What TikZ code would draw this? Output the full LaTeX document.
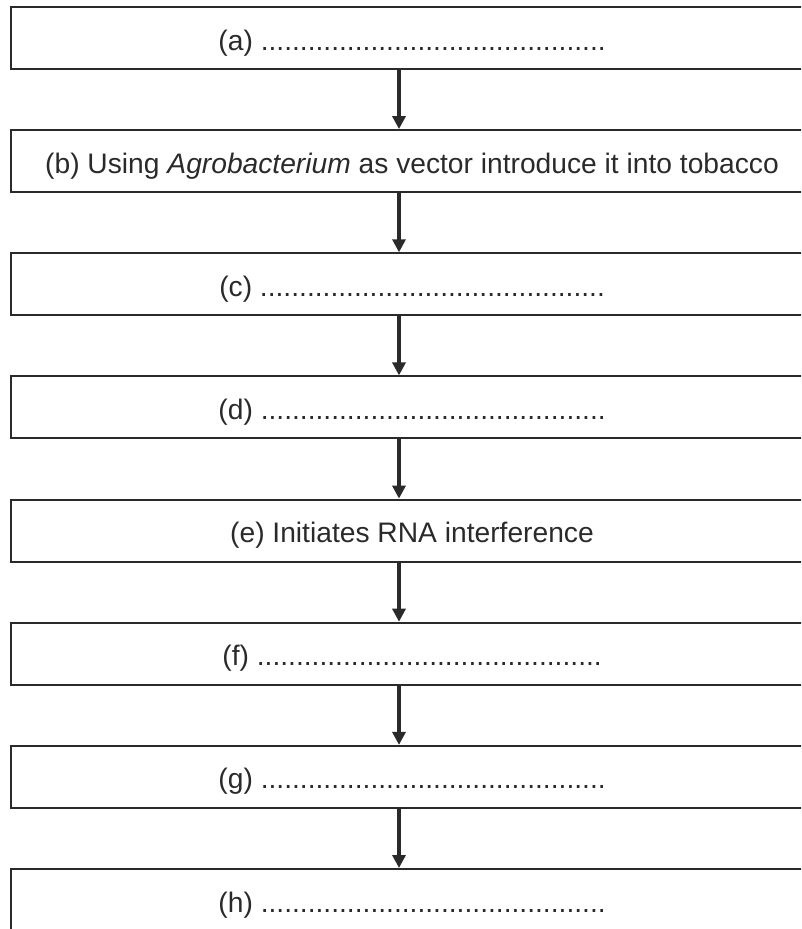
\documentclass[tikz,border=0pt]{standalone}
\usepackage{fontspec}
\setmainfont{Liberation Sans}
\usetikzlibrary{arrows.meta}
\definecolor{ink}{HTML}{2A2A2A}
\begin{document}
\begin{tikzpicture}[x=1pt,y=-1pt,
  stepbox/.style={draw=ink,line width=2pt,rectangle,minimum width=802pt,minimum height=62pt,
    inner sep=0pt,text height=24pt,text depth=0pt,font=\fontsize{28.2}{33}\selectfont,text=ink},
  arr/.style={draw=ink,line width=3.2pt,-{Triangle[length=13pt,width=13pt]}}]
\useasboundingbox (0,0) rectangle (801,929);
\clip (0,0) rectangle (801,929);
\coordinate (ax) at (399,0);
\def\dd{............................................}
\node[stepbox] (a) at (412,38) {(a) \dd};
\node[stepbox] (b) at (412,161.1) {(b) Using \textit{Agrobacterium} as vector introduce it into tobacco};
\node[stepbox] (c) at (412,284.3) {(c) \dd};
\node[stepbox] (d) at (412,407.4) {(d) \dd};
\node[stepbox] (e) at (412,530.6) {(e) Initiates RNA interference};
\node[stepbox] (f) at (412,653.7) {(f) \dd};
\node[stepbox] (g) at (412,776.9) {(g) \dd};
\node[stepbox] (h) at (412,900) {(h) \dd};
\foreach \u/\v in {a/b,b/c,c/d,d/e,e/f,f/g,g/h}
  \draw[arr] (\u.south -| ax) -- (\v.north -| ax);
\end{tikzpicture}
\end{document}
